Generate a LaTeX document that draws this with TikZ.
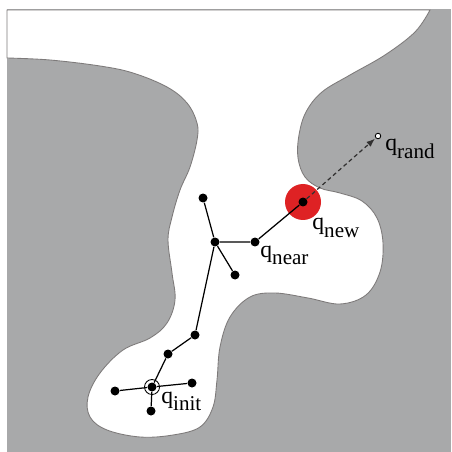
\documentclass[tikz,border=0pt]{standalone}
\usepackage{fontspec}
\setmainfont{Liberation Serif}
\usetikzlibrary{arrows.meta,positioning}
\definecolor{ObstacleGray}{RGB}{168,169,170}
\definecolor{EdgeGray}{RGB}{125,122,122}
\definecolor{NewRed}{RGB}{222,34,36}
\newcommand{\qsub}[1]{{\fontsize{13.5}{15}\selectfont q}\raisebox{-4pt}{\fontsize{12}{14}\selectfont #1}}

\begin{document}
\begin{tikzpicture}[x=0.02cm,y=-0.02cm,>=Latex,
    dot/.style={circle,fill=black,inner sep=0pt,minimum size=1.8mm},
    opendot/.style={circle,draw=black,fill=white,inner sep=0pt,minimum size=1.1mm,line width=0.5pt},
    tree/.style={line width=0.7pt},
    lbl/.style={inner sep=0pt,anchor=base west}]
      \useasboundingbox (0,0) rectangle (451,452);
      \fill[ObstacleGray] (7,9) rectangle (451,452);
      \filldraw[fill=white,draw=EdgeGray,line width=0.5pt] (7,10) -- plot[smooth,tension=0.6] coordinates {
        (430,10) (415,32) (385,55) (350,75) (322,92) (306,112) (299,135) (298,158)
        (305,177) (320,188) (340,193) (362,201) (377,218) (383,243) (380,272)
        (366,295) (340,304) (308,298) (275,293) (250,297) (230,317) (220,347)
        (217,380) (213,407) (200,427) (173,435) (140,437) (107,430) (90,417)
        (88,397) (100,373) (123,350) (150,338) (167,323) (175,300) (172,273)
        (168,240) (172,217) (180,190) (190,167) (197,140) (197,123) (187,103)
        (167,87) (133,73) (100,66) (50,60) (7,58)} -- cycle;
      % extended node
      \fill[NewRed] (303,202) circle (18);
      % tree
      \node[dot] (init) at (152,387) {};
      \node[dot] (left) at (115,391) {};
      \node[dot] (right) at (192,383) {};
      \node[dot] (bottom) at (151,411) {};
      \node[dot] (low) at (168,354) {};
      \node[dot] (mid) at (195,335) {};
      \node[dot] (branch) at (215,242) {};
      \node[dot] (top) at (203,198) {};
      \node[dot] (side) at (235,275) {};
      \node[dot] (near) at (255,242) {};
      \node[dot] (new) at (303,202) {};
      \node[opendot] (rand) at (378,136) {};
      \draw[line width=0.5pt] (init) circle (7.5);
      \draw[tree] (init) -- (left);
      \draw[tree] (init) -- (right);
      \draw[tree] (init) -- (bottom);
      \draw[tree] (init) -- (low) -- (mid) -- (branch);
      \draw[tree] (branch) -- (top);
      \draw[tree] (branch) -- (side);
      \draw[tree] (branch) -- (near) -- (new);
      \draw[->,line width=0.7pt,dash pattern=on 2.3pt off 1.7pt,
        shorten >=0.5pt,EdgeGray!40!black,
        arrows={-Latex[length=1.7mm,width=1.3mm]}] (new) -- (rand);
      % labels
      \node[lbl] (lrand) at (385,151) {\qsub{rand}};
      \node[lbl] (lnew) at (312,230) {\qsub{new}};
      \node[lbl] (lnear) at (260,257) {\qsub{near}};
      \node[lbl] (linit) at (161,403) {\qsub{init}};
    \end{tikzpicture}
\end{document}
